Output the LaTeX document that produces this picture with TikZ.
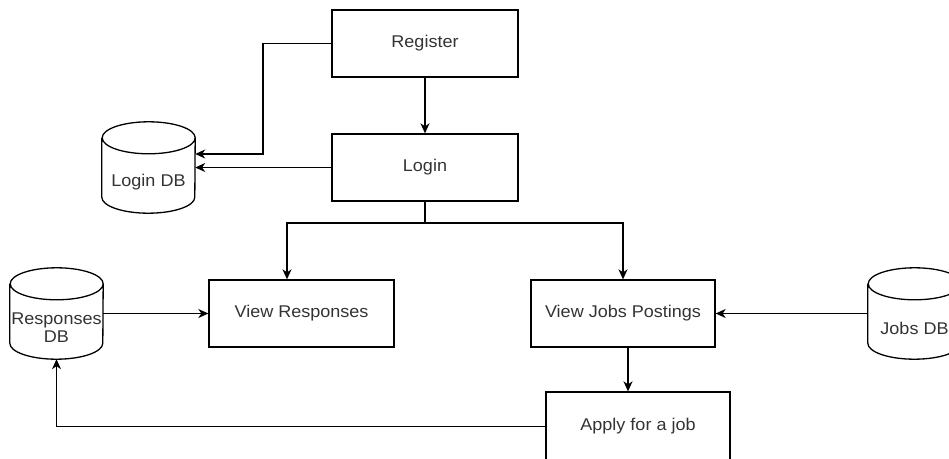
\documentclass[tikz,border=0pt]{standalone}
\usepackage{fontspec}
\setmainfont{Liberation Sans}[FakeStretch=1.06]
\usetikzlibrary{arrows.meta}
\definecolor{txt}{HTML}{333333}
\tikzset{
  x=1pt, y=1pt,
  line/.style={line width=1.3pt, draw=black},
  arr/.style={line, -{Stealth[length=10pt,width=9pt,inset=3pt]}},
  procbox/.style={draw=black, line width=1.3pt, minimum height=67pt, inner sep=0pt, text=txt, font=\fontsize{17}{20}\selectfont},
  dbnode/.style={minimum width=93pt, minimum height=91pt, inner sep=0pt},
  dblabel/.style={text=txt, font=\fontsize{17}{18}\selectfont, align=center, inner sep=0pt},
}
\newcommand{\dbshape}[1]{%
  \draw[line] ([yshift=-16pt]#1.north west) -- ([yshift=16pt]#1.south west)
     arc[start angle=180,end angle=360,x radius=46.5pt,y radius=16pt]
     -- ([yshift=-16pt]#1.north east)
     arc[start angle=0,end angle=180,x radius=46.5pt,y radius=16pt]
     arc[start angle=180,end angle=360,x radius=46.5pt,y radius=16pt];
}
\begin{document}
\begin{tikzpicture}
\clip (0,0) rectangle (949,458);
\useasboundingbox (0,0) rectangle (949,458);
% process boxes
\node[procbox, minimum width=186pt] (reg) at (425,414.5) {Register};
\node[procbox, minimum width=186pt] (login) at (425,290.5) {Login};
\node[procbox, minimum width=185pt] (vresp) at (301.5,144.5) {View Responses};
\node[procbox, minimum width=184pt] (vjobs) at (623,144.5) {View Jobs Postings};
\node[procbox, minimum width=184pt, minimum height=70pt] (apply) at (638,31) {};
\node[text=txt, font=\fontsize{17}{20}\selectfont] (applytxt) at (638,32) {Apply for a job};
% databases
\node[dbnode] (ldb) at (148.5,290.5) {};
\dbshape{ldb}
\node[dblabel] (ldbt) at (148.5,276) {Login DB};
\node[dbnode] (rdb) at (56.5,144.5) {};
\dbshape{rdb}
\node[dblabel] (rdbt) at (56.5,130) {Responses\\DB};
\node[dbnode] (jdb) at (914.5,144.5) {};
\dbshape{jdb}
\node[dblabel] (jdbt) at (914.5,130) {Jobs DB};
% connectors
\coordinate (j1) at (263,414.5);
\coordinate (j2) at (263,304);
\draw[arr] (reg.west) -- (j1) -- (j2) -- (ldb.east |- j2);
\draw[arr] (login.west) -- (ldb.east |- login.west);
\draw[arr] (reg.south) -- (login.north);
\coordinate (split) at (425,235);
\coordinate (sl) at (287,235);
\coordinate (sr) at (623,235);
\draw[line] (login.south) -- (split);
\draw[arr] (split) -- (sl) -- (sl |- vresp.north);
\draw[arr] (split) -- (sr) -- (sr |- vjobs.north);
\draw[arr] (rdb.east) -- (vresp.west);
\draw[arr] (jdb.west) -- (vjobs.east);
\coordinate (vj) at (628,0);
\draw[arr] (vj |- vjobs.south) -- (vj |- apply.north);
\coordinate (ab) at (56.5,31.5);
\draw[arr] (apply.west |- ab) -- (ab) -- (rdb.south);
\end{tikzpicture}
\end{document}
